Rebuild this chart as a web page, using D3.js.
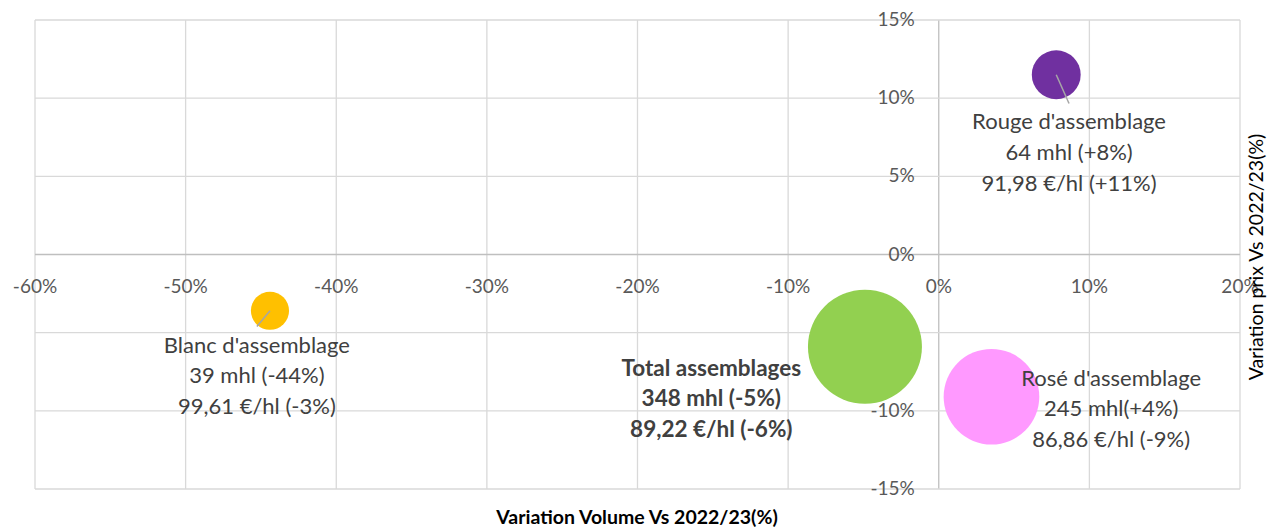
<!DOCTYPE html>
<html>
<head>
<meta charset="utf-8">
<script src="https://cdn.jsdelivr.net/npm/d3@7"></script>
<style>
  body { margin: 0; background: #fff; }
  svg { display: block; font-family: Lato, "Open Sans", sans-serif; }
</style>
</head>
<body>
<div id="chart"></div>
<script>
// data
var names = ["Blanc d'assemblage", "Rouge d'assemblage", "Total assemblages", "Rosé d'assemblage"];
var volVar = [-0.444, 0.078, -0.049, 0.035];
var priceVar = [-0.036, 0.115, -0.059, -0.091];
var volumes = [39, 64, 348, 245];
var colors = ["#FFC000", "#7030A0", "#92D050", "#FF99FF"];
var labelLines = [
    ["Blanc d'assemblage", "39 mhl (-44%)", "99,61 €/hl (-3%)"],
    ["Rouge d'assemblage", "64 mhl (+8%)", "91,98 €/hl (+11%)"],
    ["Total assemblages", "348 mhl (-5%)", "89,22 €/hl (-6%)"],
    ["Rosé d'assemblage", "245 mhl(+4%)", "86,86 €/hl (-9%)"]
];
// where each data label sits (x %, y % of its first line)
var labelX = [-0.4527, 0.0865, -0.151, 0.1145];
var labelY = [-0.0627, 0.080, -0.0774, -0.0838];
var boldLabel = [false, false, true, false];
var leader = [true, true, false, false];
var xTicks = [-0.6, -0.5, -0.4, -0.3, -0.2, -0.1, 0, 0.1, 0.2];
var yTicks = [-0.15, -0.10, -0.05, 0, 0.05, 0.10, 0.15];

var W = 1268, H = 530;
var margin = {top: 20, right: 28, bottom: 41, left: 35},
    width = W - margin.left - margin.right,
    height = H - margin.top - margin.bottom;

var x = d3.scaleLinear().domain([-0.6, 0.2]).range([0, width]);
var y = d3.scaleLinear().domain([-0.15, 0.15]).range([height, 0]);
var r = d3.scaleSqrt().domain([0, 348]).range([0, 57]);
var pct = function(d) { return d3.format(".0%")(d).replace("\u2212", "-"); };

var svg = d3.select("#chart").append("svg")
    .attr("width", W)
    .attr("height", H);
var g = svg.append("g")
    .attr("transform", "translate(" + margin.left + "," + margin.top + ")");

// grid
g.selectAll(".vgrid")
    .data(xTicks)
    .enter().append("line")
    .attr("x1", function(d) { return x(d); })
    .attr("x2", function(d) { return x(d); })
    .attr("y1", 0)
    .attr("y2", height)
    .style("stroke", function(d) { return d === 0 ? "#bfbfbf" : "#d9d9d9"; })
    .style("stroke-width", 1.3);
g.selectAll(".hgrid")
    .data(yTicks)
    .enter().append("line")
    .attr("x1", 0)
    .attr("x2", width)
    .attr("y1", function(d) { return y(d); })
    .attr("y2", function(d) { return y(d); })
    .style("stroke", function(d) { return d === 0 ? "#bfbfbf" : "#d9d9d9"; })
    .style("stroke-width", 1.3);

// x tick labels along the y=0 line
g.selectAll(".xlab")
    .data(xTicks)
    .enter().append("text")
    .attr("x", function(d) { return x(d); })
    .attr("y", y(0) + 38)
    .attr("text-anchor", "middle")
    .attr("font-size", 19)
    .style("fill", "#595959")
    .text(pct);

// y tick labels along the x=0 line
g.selectAll(".ylab")
    .data(yTicks)
    .enter().append("text")
    .attr("x", x(0) - 24)
    .attr("y", function(d) { return y(d) + 6; })
    .attr("text-anchor", "end")
    .attr("font-size", 19)
    .style("fill", "#595959")
    .text(pct);

var pts = names.map(function(n, i) {
    return {name: n, vx: volVar[i], py: priceVar[i], vol: volumes[i], color: colors[i],
        lines: labelLines[i], lx: labelX[i], ly: labelY[i], bold: boldLabel[i], leader: leader[i]};
});

// bubbles
g.selectAll(".bubble")
    .data(pts)
    .enter().append("circle")
    .attr("cx", function(d) { return x(d.vx); })
    .attr("cy", function(d) { return y(d.py); })
    .attr("r", function(d) { return r(d.vol); })
    .style("fill", function(d) { return d.color; });

// leader lines
g.selectAll(".leader")
    .data(pts.filter(function(d) { return d.leader; }))
    .enter().append("line")
    .attr("x1", function(d) { return x(d.vx); })
    .attr("y1", function(d) { return y(d.py); })
    .attr("x2", function(d) { return x(d.lx); })
    .attr("y2", function(d) { return y(d.ly) - 26; })
    .style("stroke", "#a6a6a6")
    .style("stroke-width", 1.5);

// data labels
var labels = g.selectAll(".dlabel")
    .data(pts)
    .enter().append("text")
    .attr("text-anchor", "middle")
    .attr("font-size", function(d) { return d.bold ? 22.5 : 22; })
    .attr("font-weight", function(d) { return d.bold ? "bold" : "normal"; })
    .style("fill", "#404040");
labels.selectAll("tspan")
    .data(function(d) {
        return d.lines.map(function(t, k) { return {t: t, k: k, d: d}; });
    })
    .enter().append("tspan")
    .attr("x", function(o) { return x(o.d.lx); })
    .attr("y", function(o) { return y(o.d.ly) + o.k * 30.8; })
    .text(function(o) { return o.t; });

// axis titles
svg.append("text")
    .attr("x", 637)
    .attr("y", 524)
    .attr("text-anchor", "middle")
    .attr("font-size", 19.5)
    .attr("font-weight", "bold")
    .style("fill", "#000")
    .text("Variation Volume Vs 2022/23(%)");
svg.append("text")
    .attr("transform", "translate(1263,257) rotate(-90)")
    .attr("text-anchor", "middle")
    .attr("font-size", 19.5)
    .style("fill", "#000")
    .text("Variation prix Vs 2022/23(%)");
</script>
</body>
</html>
